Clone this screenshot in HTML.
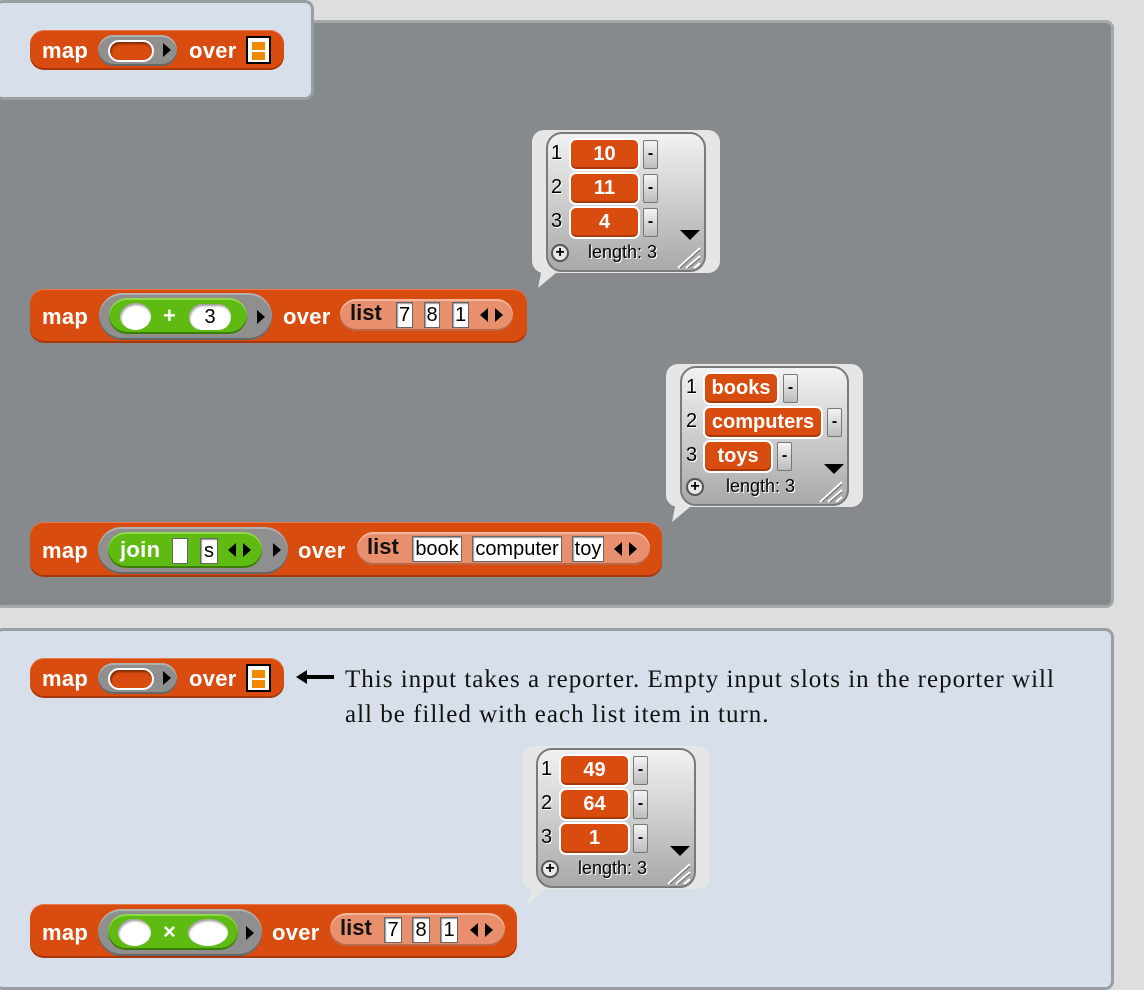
<!DOCTYPE html>
<html><head><meta charset="utf-8"><style>
*{box-sizing:border-box;margin:0;padding:0}
body{width:1144px;height:990px;background:#dedede;position:relative;overflow:hidden;font-family:"Liberation Sans",sans-serif}
.a{position:absolute}
.blk{position:absolute;background:#d94c10;border-radius:14px;box-shadow:inset 0 1px 0 #e8794a,inset 0 -2px 0 #a8380a}
.t{position:absolute;color:#fff;font-weight:bold;font-size:22px;line-height:20px;white-space:nowrap;letter-spacing:0.3px}
.ring{position:absolute;background:#8f8f8f;border-radius:24px;box-shadow:inset 0 2px 0 #b0b0b0,inset 0 -2px 0 #666}
.grn{position:absolute;background:#5fba12;border-radius:20px;box-shadow:inset 0 -2px 0 #3c7d08,inset 0 2px 0 #8fd84a}
.ov{position:absolute;background:#fff;border-radius:50%;box-shadow:inset 1px 2px 2px #999}
.pill{position:absolute;background:#e8906d;border-radius:17px;box-shadow:inset 0 -2px 0 #b86848,inset 0 2px 0 #f4b69c}
.box{position:absolute;background:#fff;border:1px solid #666;color:#000;font-size:20px;line-height:24px;text-align:center;box-shadow:inset 1px 1px 1px #999;white-space:nowrap}
.tri{position:absolute;width:0;height:0;border-top:7px solid transparent;border-bottom:7px solid transparent}
.r{border-left:8px solid #000}
.l{border-right:8px solid #000}
.lt{position:absolute;color:#111;font-weight:bold;font-size:22px;line-height:20px}
.bub{position:absolute;background:#e6e6e6;border-radius:12px}
.frame{position:absolute;border:2px solid #7a7a7a;border-radius:16px;background:linear-gradient(#f2f2f2,#a9a9a9)}
.num{position:absolute;font-size:20px;color:#000;text-shadow:1px 1px 0 #fff}
.cell{position:absolute;background:#d94c10;border:2px solid #fff;border-radius:7px;color:#fff;font-weight:bold;font-size:20px;text-align:center;box-shadow:inset 0 -2px 0 #a8380a;white-space:nowrap}
.minus{position:absolute;width:15px;height:29px;background:linear-gradient(#f5f5f5,#bcbcbc);border:1px solid #777;border-radius:2px;font-size:16px;font-weight:bold;text-align:center;line-height:26px}
.plus{position:absolute;width:18px;height:18px;border-radius:50%;border:2px solid #555;background:#e8e8e8;font-size:16px;font-weight:bold;text-align:center;line-height:14px}
.len{position:absolute;font-size:18px;color:#000;text-shadow:1px 1px 0 #fff}
.dtri{position:absolute;width:0;height:0;border-left:10px solid transparent;border-right:10px solid transparent;border-top:10px solid #000}
.lico{position:absolute;width:25px;height:28px;background:#fff;border:2px solid #000}
.lico i{position:absolute;left:4px;width:13px;height:8px;background:#f28a00}
</style></head><body>

<div class="a" style="left:-6px;top:20px;width:1120px;height:588px;background:#868a8c;border:3px solid #a4a9ab;border-radius:8px"></div>
<div class="a" style="left:-6px;top:0;width:320px;height:100px;background:#d7e0ea;border:3px solid #999ea2;border-radius:9px"></div>
<div class="a" style="left:-6px;top:628px;width:1120px;height:362px;background:#d7e0ea;border:3px solid #999ea2;border-radius:9px"></div>

<!-- small block 1 -->
<div class="blk" style="left:30px;top:30px;width:254px;height:40px"></div>
<div class="t" style="left:42px;top:41px">map</div>
<div class="ring" style="left:98px;top:35px;width:79px;height:31px"></div>
<div class="a" style="left:108px;top:40px;width:46px;height:22px;background:#d94c10;border-radius:11px;border:2px solid #fff;box-shadow:inset 1px 2px 2px #7a2a05"></div>
<div class="tri r" style="left:163px;top:43px"></div>
<div class="t" style="left:189px;top:41px">over</div>
<div class="lico" style="left:246px;top:36px"><i style="top:4px"></i><i style="top:14px"></i></div>

<!-- bubble 1 -->
<div class="bub" style="left:532px;top:130px;width:188px;height:143px"></div>
<svg class="a" style="left:536px;top:268px" width="30" height="22"><polygon points="6,0 26,0 2,20" fill="#e6e6e6"/></svg>
<div class="frame" style="left:546px;top:132px;width:160px;height:140px"></div>
<div class="num" style="left:551px;top:142px">1</div>
<div class="num" style="left:551px;top:176px">2</div>
<div class="num" style="left:551px;top:210px">3</div>
<div class="cell" style="left:569px;top:138px;width:71px;height:33px;line-height:29px">10</div>
<div class="cell" style="left:569px;top:172px;width:71px;height:33px;line-height:29px">11</div>
<div class="cell" style="left:569px;top:206px;width:71px;height:33px;line-height:29px">4</div>
<div class="minus" style="left:643px;top:140px">-</div>
<div class="minus" style="left:643px;top:174px">-</div>
<div class="minus" style="left:643px;top:208px">-</div>
<div class="plus" style="left:551px;top:244px">+</div>
<div class="len" style="left:588px;top:242px">length: 3</div>
<div class="dtri" style="left:680px;top:230px"></div>
<svg class="a" style="left:676px;top:246px" width="26" height="24"><path d="M2 22 L24 2 M10 22 L24 10 M18 22 L24 17" stroke="#fff" stroke-width="2"/><path d="M4 22 L24 4 M12 22 L24 12" stroke="#666" stroke-width="1"/></svg>

<!-- block 2 -->
<div class="blk" style="left:30px;top:289px;width:497px;height:54px"></div>
<div class="t" style="left:42px;top:307px">map</div>
<div class="ring" style="left:99px;top:293px;width:173px;height:47px"></div>
<div class="grn" style="left:109px;top:298px;width:138px;height:36px"></div>
<div class="ov" style="left:120px;top:303px;width:31px;height:27px"></div>
<div class="t" style="left:163px;top:306px">+</div>
<div class="a" style="left:189px;top:304px;width:42px;height:26px;background:#fff;border-radius:13px;font-size:20px;text-align:center;line-height:26px;box-shadow:inset 1px 2px 2px #999">3</div>
<div class="tri r" style="left:257px;top:310px"></div>
<div class="t" style="left:283px;top:307px">over</div>
<div class="pill" style="left:340px;top:299px;width:173px;height:32px"></div>
<div class="lt" style="left:350px;top:303px">list</div>
<div class="box" style="left:396px;top:302px;width:17px;height:26px">7</div>
<div class="box" style="left:424px;top:302px;width:16px;height:26px">8</div>
<div class="box" style="left:452px;top:302px;width:17px;height:26px">1</div>
<div class="tri l" style="left:480px;top:308px"></div>
<div class="tri r" style="left:495px;top:308px"></div>

<!-- bubble 2 -->
<div class="bub" style="left:666px;top:364px;width:197px;height:143px"></div>
<svg class="a" style="left:670px;top:502px" width="30" height="22"><polygon points="6,0 26,0 2,20" fill="#e6e6e6"/></svg>
<div class="frame" style="left:680px;top:366px;width:169px;height:140px"></div>
<div class="num" style="left:686px;top:376px">1</div>
<div class="num" style="left:686px;top:410px">2</div>
<div class="num" style="left:686px;top:444px">3</div>
<div class="cell" style="left:703px;top:372px;width:76px;height:33px;line-height:29px">books</div>
<div class="cell" style="left:703px;top:406px;width:120px;height:33px;line-height:29px">computers</div>
<div class="cell" style="left:703px;top:440px;width:70px;height:33px;line-height:29px">toys</div>
<div class="minus" style="left:783px;top:374px">-</div>
<div class="minus" style="left:827px;top:408px">-</div>
<div class="minus" style="left:777px;top:442px">-</div>
<div class="plus" style="left:686px;top:478px">+</div>
<div class="len" style="left:726px;top:476px">length: 3</div>
<div class="dtri" style="left:824px;top:464px"></div>
<svg class="a" style="left:818px;top:480px" width="26" height="24"><path d="M2 22 L24 2 M10 22 L24 10 M18 22 L24 17" stroke="#fff" stroke-width="2"/><path d="M4 22 L24 4 M12 22 L24 12" stroke="#666" stroke-width="1"/></svg>

<!-- block 3 -->
<div class="blk" style="left:30px;top:522px;width:632px;height:55px"></div>
<div class="t" style="left:42px;top:541px">map</div>
<div class="ring" style="left:98px;top:527px;width:190px;height:47px"></div>
<div class="grn" style="left:108px;top:532px;width:154px;height:36px"></div>
<div class="t" style="left:120px;top:540px">join</div>
<div class="a" style="left:172px;top:538px;width:16px;height:26px;background:#fff;border:1px solid #666"></div>
<div class="box" style="left:200px;top:538px;width:18px;height:26px">s</div>
<div class="tri l" style="left:228px;top:543px"></div>
<div class="tri r" style="left:243px;top:543px"></div>
<div class="tri r" style="left:273px;top:543px"></div>
<div class="t" style="left:298px;top:541px">over</div>
<div class="pill" style="left:357px;top:532px;width:293px;height:33px"></div>
<div class="lt" style="left:367px;top:537px">list</div>
<div class="box" style="left:412px;top:536px;width:50px;height:26px">book</div>
<div class="box" style="left:472px;top:536px;width:90px;height:26px">computer</div>
<div class="box" style="left:572px;top:536px;width:32px;height:26px">toy</div>
<div class="tri l" style="left:614px;top:542px"></div>
<div class="tri r" style="left:629px;top:542px"></div>

<!-- small block 4 -->
<div class="blk" style="left:30px;top:658px;width:254px;height:40px"></div>
<div class="t" style="left:42px;top:669px">map</div>
<div class="ring" style="left:98px;top:663px;width:79px;height:31px"></div>
<div class="a" style="left:108px;top:668px;width:46px;height:22px;background:#d94c10;border-radius:11px;border:2px solid #fff;box-shadow:inset 1px 2px 2px #7a2a05"></div>
<div class="tri r" style="left:163px;top:671px"></div>
<div class="t" style="left:189px;top:669px">over</div>
<div class="lico" style="left:246px;top:664px"><i style="top:4px"></i><i style="top:14px"></i></div>

<!-- arrow + text -->
<svg class="a" style="left:296px;top:669px" width="40" height="16"><polygon points="0,8 11,1 11,6 38,6 38,10 11,10 11,15" fill="#000"/></svg>
<div class="a" style="left:345px;top:662px;font-family:'Liberation Serif',serif;font-size:25px;letter-spacing:1px;line-height:35px;color:#111;width:780px;white-space:nowrap">This input takes a reporter. Empty input slots in the reporter will<br>all be filled with each list item in turn.</div>

<!-- bubble 3 -->
<div class="bub" style="left:522px;top:746px;width:188px;height:143px"></div>
<svg class="a" style="left:526px;top:884px" width="30" height="22"><polygon points="6,0 26,0 2,20" fill="#e6e6e6"/></svg>
<div class="frame" style="left:536px;top:748px;width:160px;height:140px"></div>
<div class="num" style="left:541px;top:758px">1</div>
<div class="num" style="left:541px;top:792px">2</div>
<div class="num" style="left:541px;top:826px">3</div>
<div class="cell" style="left:559px;top:754px;width:71px;height:33px;line-height:29px">49</div>
<div class="cell" style="left:559px;top:788px;width:71px;height:33px;line-height:29px">64</div>
<div class="cell" style="left:559px;top:822px;width:71px;height:33px;line-height:29px">1</div>
<div class="minus" style="left:633px;top:756px">-</div>
<div class="minus" style="left:633px;top:790px">-</div>
<div class="minus" style="left:633px;top:824px">-</div>
<div class="plus" style="left:541px;top:860px">+</div>
<div class="len" style="left:578px;top:858px">length: 3</div>
<div class="dtri" style="left:670px;top:846px"></div>
<svg class="a" style="left:666px;top:862px" width="26" height="24"><path d="M2 22 L24 2 M10 22 L24 10 M18 22 L24 17" stroke="#fff" stroke-width="2"/><path d="M4 22 L24 4 M12 22 L24 12" stroke="#666" stroke-width="1"/></svg>

<!-- block 5 -->
<div class="blk" style="left:30px;top:904px;width:487px;height:54px"></div>
<div class="t" style="left:42px;top:923px">map</div>
<div class="ring" style="left:98px;top:909px;width:164px;height:47px"></div>
<div class="grn" style="left:108px;top:914px;width:130px;height:36px"></div>
<div class="ov" style="left:118px;top:919px;width:33px;height:27px"></div>
<div class="t" style="left:163px;top:922px">×</div>
<div class="ov" style="left:188px;top:919px;width:40px;height:27px"></div>
<div class="tri r" style="left:246px;top:926px"></div>
<div class="t" style="left:272px;top:923px">over</div>
<div class="pill" style="left:330px;top:913px;width:175px;height:33px"></div>
<div class="lt" style="left:340px;top:918px">list</div>
<div class="box" style="left:384px;top:917px;width:18px;height:26px">7</div>
<div class="box" style="left:412px;top:917px;width:18px;height:26px">8</div>
<div class="box" style="left:440px;top:917px;width:18px;height:26px">1</div>
<div class="tri l" style="left:470px;top:923px"></div>
<div class="tri r" style="left:485px;top:923px"></div>

</body></html>
